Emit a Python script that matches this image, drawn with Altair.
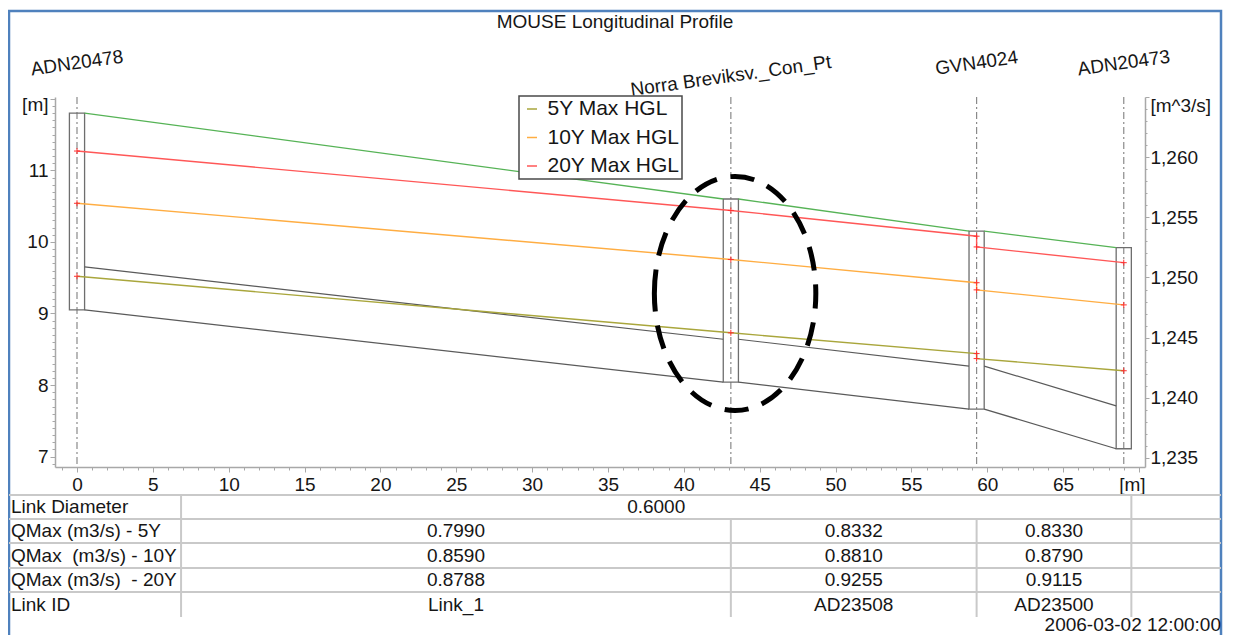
import altair as alt
import pandas as pd

# ---------------- data ----------------
NODE_IDS = ["ADN20478", "Norra Breviksv._Con_Pt", "GVN4024", "ADN20473"]
NODE_CHAINAGE = [0.0, 43.1, 59.3, 69.0]
NODE_GROUND = [11.80, 10.60, 10.15, 9.92]
NODE_BOTTOM = [9.05, 8.04, 7.665, 7.11]

LINK_IDS = ["Link_1", "AD23508", "AD23500"]
LINK_UP_INVERT = [9.05, 8.04, 7.665]
LINK_DN_INVERT = [8.04, 7.665, 7.11]
LINK_DIAMETER = 0.6
QMAX_5Y = [0.7990, 0.8332, 0.8330]
QMAX_10Y = [0.8590, 0.8810, 0.8790]
QMAX_20Y = [0.8788, 0.9255, 0.9115]

SERIES = ["5Y Max HGL", "10Y Max HGL", "20Y Max HGL"]
HGL_CHAINAGE = [0.0, 43.1, 59.3, 59.3, 69.0]
HGL_5Y = [9.52, 8.73, 8.44, 8.37, 8.20]
HGL_10Y = [10.54, 9.755, 9.43, 9.33, 9.12]
HGL_20Y = [11.27, 10.44, 10.08, 9.93, 9.71]

X_TICKS = list(range(-1, 71))
Y_TICKS = [round(6.9 + 0.1 * i, 1) for i in range(52)]
Q_TICKS = list(range(1235, 1266))

TITLE = "MOUSE Longitudinal Profile"
TIMESTAMP = "2006-03-02 12:00:00"
ROW_LABELS = ["Link Diameter", "QMax (m3/s) - 5Y", "QMax\u00a0 (m3/s) - 10Y",
              "QMax (m3/s) \u00a0- 20Y", "Link ID"]

# annotation (dashed ellipse around the connection point)
ELLIPSE_X = 43.38
ELLIPSE_Y = 9.28

# ---------------- layout / style ----------------
FONT = "Liberation Sans"
W, H = 1090, 370
HALF_MH = 0.5            # half manhole width in metres
TABLE_LABEL_EDGE = 6.86  # right edge of the table's label column (x units)
AXIS_GRAY = "#a8a8a8"
TXT = "#161616"
COLORS = ["#a9a63c", "#ffad42", "#ff5757"]
GROUND_C = "#56b356"
ROW_Y = [410, 434, 458.5, 483, 507.5]
LINE_Y = [398, 422, 446, 471, 495]
TABLE_BOTTOM = 520

XS = alt.Scale(domain=[-1.45, 70.4], nice=False, zero=False)
YS = alt.Scale(domain=[6.855, 12.025], nice=False, zero=False)
QS = alt.Scale(domain=[1234.25, 1265.0], nice=False, zero=False)

common_axis = dict(title=None, grid=False, labelOverlap=False, labelFlush=False,
                   domainColor=AXIS_GRAY, tickColor=AXIS_GRAY, domainWidth=1.5,
                   labelFontSize=19, labelColor=TXT, labelFont=FONT)

XAX = alt.Axis(values=X_TICKS, labelPadding=3,
               labelExpr="datum.value == 70 ? '[m]' : (datum.value % 5 === 0 ? datum.label : '')",
               tickSize={"condition": {"test": "datum.value % 5 === 0", "value": 5}, "value": 3},
               labelOffset={"condition": {"test": "datum.value == 70", "value": -7}, "value": 0},
               **common_axis)
YAX = alt.Axis(values=Y_TICKS, labelPadding=2,
               labelExpr="abs(datum.value - round(datum.value)) < 0.001 ? (round(datum.value) == 12 ? '[m]' : '' + round(datum.value)) : ''",
               tickSize={"condition": {"test": "abs(datum.value - round(datum.value)) < 0.001", "value": 5}, "value": 3},
               labelOffset={"condition": {"test": "datum.value > 11.99", "value": 6}, "value": 0},
               **common_axis)
QAX = alt.Axis(values=Q_TICKS, orient="right", labelPadding=1,
               labelExpr="datum.value % 5 === 0 ? (datum.value == 1265 ? '[m^3/s]' : format(datum.value, ',')) : ''",
               tickSize={"condition": {"test": "datum.value % 5 === 0", "value": 4}, "value": 2},
               labelOffset={"condition": {"test": "datum.value > 1264.9", "value": 8}, "value": 0},
               **common_axis)


def X(f):
    return alt.X(f, type="quantitative", scale=XS, axis=XAX)


def Y(f):
    return alt.Y(f, type="quantitative", scale=YS, axis=YAX)


one = pd.DataFrame({"k": [0]})

# frame
frame = alt.Chart(one).mark_rect(fillOpacity=0, stroke="#4f81bd", strokeWidth=2.5).encode(
    x=alt.value(-46), x2=alt.value(1166), y=alt.value(-86), y2=alt.value(600))

title = alt.Chart(one).mark_text(text=TITLE, fontSize=19, font=FONT, color=TXT,
                                 align="center", baseline="middle").encode(
    x=alt.value(560), y=alt.value(-75))

stamp = alt.Chart(one).mark_text(text=TIMESTAMP, fontSize=19, font=FONT, color=TXT,
                                 align="right", baseline="middle").encode(
    x=alt.value(1166), y=alt.value(528))

# nodes
nodes = pd.DataFrame({"node": NODE_IDS, "ch": NODE_CHAINAGE,
                      "ground": NODE_GROUND, "bottom": NODE_BOTTOM})
nodes["x1"] = nodes["ch"] - HALF_MH
nodes["x2"] = nodes["ch"] + HALF_MH

node_lines = alt.Chart(nodes).mark_rule(color="#8a8a8a", strokeWidth=1.2,
                                        strokeDash=[7, 3, 2, 3]).encode(
    x=X("ch"), y=alt.value(0), y2=alt.value(H))

manholes = alt.Chart(nodes).mark_rect(fillOpacity=0, stroke="#6e6e6e", strokeWidth=1.3).encode(
    x=X("x1"), x2="x2", y=Y("bottom"), y2="ground")

labels_a = alt.Chart(nodes).transform_filter(
    alt.datum.node != NODE_IDS[1]).mark_text(
    fontSize=19, font=FONT, color=TXT, angle=352, align="center", baseline="middle").encode(
    x=X("ch"), y=alt.value(-34), text="node:N")
labels_b = alt.Chart(nodes).transform_filter(
    alt.datum.node == NODE_IDS[1]).mark_text(
    fontSize=19, font=FONT, color=TXT, angle=352, align="center", baseline="middle").encode(
    x=X("ch"), y=alt.value(-21), text="node:N")

# links
links = pd.DataFrame({
    "link": LINK_IDS,
    "xs": [c + HALF_MH for c in NODE_CHAINAGE[:-1]],
    "xe": [c - HALF_MH for c in NODE_CHAINAGE[1:]],
    "inv_s": LINK_UP_INVERT, "inv_e": LINK_DN_INVERT,
    "g_s": NODE_GROUND[:-1], "g_e": NODE_GROUND[1:],
})
links["cr_s"] = links["inv_s"] + LINK_DIAMETER
links["cr_e"] = links["inv_e"] + LINK_DIAMETER

invert = alt.Chart(links).mark_rule(color="#5a5a5a", strokeWidth=1.3).encode(
    x=X("xs"), x2="xe", y=Y("inv_s"), y2="inv_e")
crown = alt.Chart(links).mark_rule(color="#5a5a5a", strokeWidth=1.2).encode(
    x=X("xs"), x2="xe", y=Y("cr_s"), y2="cr_e")
ground = alt.Chart(links).mark_rule(color=GROUND_C, strokeWidth=1.3).encode(
    x=X("xs"), x2="xe", y=Y("g_s"), y2="g_e")

# HGL
rows = []
for s, vals in zip(SERIES, [HGL_5Y, HGL_10Y, HGL_20Y]):
    for i, (x, y) in enumerate(zip(HGL_CHAINAGE, vals)):
        rows.append({"series": s, "x": x, "y": y, "idx": i})
hgl = pd.DataFrame(rows)

hgl_lines = alt.Chart(hgl).mark_line(strokeWidth=1.4).encode(
    x=X("x"), y=Y("y"), order="idx:Q",
    color=alt.Color("series:N", scale=alt.Scale(domain=SERIES, range=COLORS),
                    legend=alt.Legend(orient="none", legendX=464, legendY=-1, title=None,
                                      symbolType="stroke", symbolSize=100,
                                      symbolStrokeWidth=1.5, labelFontSize=21,
                                      labelFont=FONT, labelColor=TXT, labelOffset=5,
                                      rowPadding=6.5, padding=2.5, strokeColor="#4a4a4a",
                                      fillColor="white", zindex=1)))

hgl_marks = alt.Chart(hgl).mark_point(shape="M-1,0L1,0M0,-1L0,1", filled=False,
                                      color="#ff3030", size=36, strokeWidth=1,
                                      opacity=1).encode(x=X("x"), y=Y("y"))

ellipse = alt.Chart(pd.DataFrame({"x": [ELLIPSE_X], "y": [ELLIPSE_Y]})).mark_point(
    shape="M-0.69,0A0.69,1,0,1,1,0.69,0A0.69,1,0,1,1,-0.69,0Z",
    filled=False, color="black", size=54756, strokeWidth=5, strokeDash=[24, 14],
    opacity=1).encode(x=X("x"), y=Y("y"))

# table
table_layers = []
for yv in LINE_Y:
    table_layers.append(alt.Chart(one).mark_rule(color="#c9c9c9", strokeWidth=2).encode(
        x=alt.value(-46), x2=alt.value(1166), y=alt.value(yv)))

table_layers.append(alt.Chart(one).mark_rule(color="#c9c9c9", strokeWidth=2).encode(
    x=X("edge"), y=alt.value(LINE_Y[0]), y2=alt.value(TABLE_BOTTOM)
).transform_calculate(edge=str(TABLE_LABEL_EDGE)))

bounds = [TABLE_LABEL_EDGE, NODE_CHAINAGE[1], NODE_CHAINAGE[2], NODE_CHAINAGE[3] + HALF_MH]
vlines = pd.DataFrame({"x": bounds[1:], "top": [LINE_Y[1], LINE_Y[1], LINE_Y[0]]})
for _, r in vlines.iterrows():
    table_layers.append(alt.Chart(pd.DataFrame({"x": [r["x"]]})).mark_rule(
        color="#c9c9c9", strokeWidth=2).encode(
        x=X("x"), y=alt.value(float(r["top"])), y2=alt.value(TABLE_BOTTOM)))

centers = [(bounds[i] + bounds[i + 1]) / 2 for i in range(3)]
row_cells = [
    pd.DataFrame({"x": [(bounds[0] + bounds[-1]) / 2], "t": [f"{LINK_DIAMETER:.4f}"]}),
    pd.DataFrame({"x": centers, "t": [f"{v:.4f}" for v in QMAX_5Y]}),
    pd.DataFrame({"x": centers, "t": [f"{v:.4f}" for v in QMAX_10Y]}),
    pd.DataFrame({"x": centers, "t": [f"{v:.4f}" for v in QMAX_20Y]}),
    pd.DataFrame({"x": centers, "t": LINK_IDS}),
]
for ry, lab, cells in zip(ROW_Y, ROW_LABELS, row_cells):
    table_layers.append(alt.Chart(pd.DataFrame({"t": [lab]})).mark_text(
        fontSize=19, font=FONT, color=TXT, align="left", baseline="middle").encode(
        x=alt.value(-44), y=alt.value(ry), text="t:N"))
    table_layers.append(alt.Chart(cells).mark_text(
        fontSize=19, font=FONT, color=TXT, align="center", baseline="middle").encode(
        x=X("x"), y=alt.value(ry), text="t:N"))

left_group = alt.layer(
    frame, *table_layers, node_lines, manholes, invert, crown, ground,
    hgl_lines, hgl_marks, ellipse, labels_a, labels_b, title, stamp)

right_axis = alt.Chart(pd.DataFrame({"q": Q_TICKS[::5]})).mark_point(opacity=0).encode(
    y=alt.Y("q:Q", scale=QS, axis=QAX))

chart = alt.layer(left_group, right_axis).resolve_scale(y="independent").properties(
    width=W, height=H,
    autosize=alt.AutoSizeParams(type="none"),
    padding={"left": 47, "top": 89, "right": 81, "bottom": 168},
    background="white",
).configure(font=FONT).configure_view(strokeWidth=0).configure_legend(strokeWidth=1.5)

chart.save("out.html", embed_options={"renderer": "svg", "actions": False})
